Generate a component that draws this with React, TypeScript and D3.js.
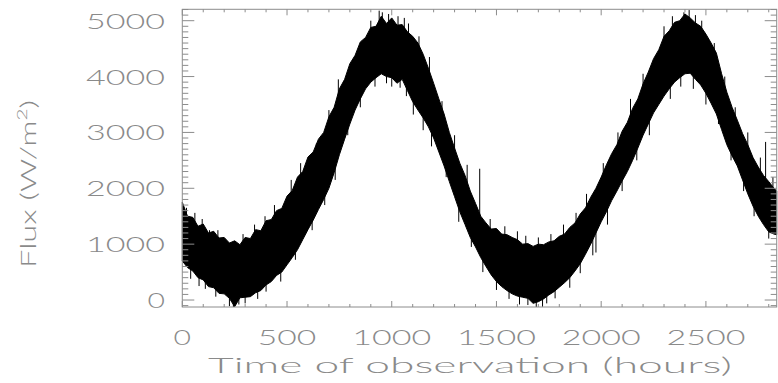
import { useEffect, useRef } from 'react';
import * as d3 from 'd3';

// sample times (hours) and the band of the noisy flux trace
const hours = [
  0, 25, 50, 75, 100, 125, 150, 175, 200, 225, 250, 275, 300, 325, 350, 375, 400, 425, 450, 475,
  500, 525, 550, 575, 600, 625, 650, 675, 700, 725, 750, 775, 800, 825, 850, 875, 900, 925, 950, 975,
  1000, 1025, 1050, 1075, 1100, 1125, 1150, 1175, 1200, 1225, 1250, 1275, 1300, 1325, 1350, 1375, 1400, 1425, 1450, 1475,
  1500, 1525, 1550, 1575, 1600, 1625, 1650, 1675, 1700, 1725, 1750, 1775, 1800, 1825, 1850, 1875, 1900, 1925, 1950, 1975,
  2000, 2025, 2050, 2075, 2100, 2125, 2150, 2175, 2200, 2225, 2250, 2275, 2300, 2325, 2350, 2375, 2400, 2425, 2450, 2475,
  2500, 2525, 2550, 2575, 2600, 2625, 2650, 2675, 2700, 2725, 2750, 2775, 2800, 2825, 2838,
];

const fluxHigh = [
  1750, 1500, 1480, 1320, 1360, 1200, 1230, 1110, 1120, 1020, 1060, 990, 1120, 1100, 1260, 1240, 1420, 1440, 1600, 1640,
  1860, 1960, 2200, 2300, 2560, 2650, 2880, 3000, 3280, 3450, 3780, 3950, 4230, 4380, 4620, 4700, 4880, 4900, 5080, 4950,
  5050, 4920, 4930, 4800, 4720, 4600, 4400, 4150, 3880, 3600, 3330, 3000, 2720, 2450, 2230, 1950, 1730, 1500, 1380, 1270,
  1280, 1180, 1170, 1120, 1080, 1000, 1010, 960, 1000, 990, 1040, 1060, 1140, 1180, 1300, 1380, 1540, 1650, 1840, 2000,
  2200, 2420, 2620, 2780, 3020, 3180, 3430, 3600, 3870, 4080, 4320, 4480, 4720, 4820, 4970, 5000, 5120, 5050, 4960, 4900,
  4760, 4600, 4420, 4050, 3720, 3450, 3220, 2980, 2780, 2550, 2380, 2230, 2120, 2000, 1950,
];

const fluxLow = [
  700, 580, 520, 400, 360, 240, 220, 120, 110, 30, -120, 40, 50, 60, 130, 170, 270, 330, 440, 500,
  630, 760, 900, 1080, 1260, 1430, 1620, 1800, 2000, 2280, 2600, 2880, 3150, 3400, 3600, 3780, 3900, 3980, 4050, 4000,
  3980, 3880, 3950, 3750, 3550, 3400, 3260, 3100, 2900, 2650, 2400, 2120, 1850, 1580, 1350, 1120, 950, 760, 600, 450,
  330, 240, 170, 110, 70, 50, 30, -60, -30, 20, 90, 150, 230, 310, 400, 520, 650, 820, 1000, 1200,
  1400, 1580, 1780, 1950, 2130, 2300, 2500, 2720, 2950, 3150, 3350, 3500, 3650, 3780, 3900, 3980, 4050, 4060, 3950, 3850,
  3700, 3520, 3330, 3050, 2780, 2580, 2400, 2150, 1900, 1680, 1500, 1350, 1220, 1180, 1170,
];

// isolated spikes that stick out of the band
const spikeHours = [
  20, 40, 60, 80, 95, 110, 130, 160, 170, 225, 244, 270, 290, 300, 345, 360, 395, 400, 440, 470,
  520, 540, 565, 620, 640, 680, 700, 730, 745, 790, 850, 900, 920, 940, 955, 975, 985, 1000, 1030, 1040,
  1060, 1070, 1080, 1103, 1130, 1150, 1180, 1190, 1240, 1260, 1300, 1320, 1360, 1380, 1420, 1435, 1470, 1500, 1540, 1560,
  1600, 1610, 1640, 1650, 1690, 1700, 1720, 1740, 1760, 1780, 1820, 1850, 1880, 1900, 1930, 1960, 1975, 2010, 2030, 2080,
  2100, 2140, 2170, 2200, 2230, 2300, 2330, 2340, 2380, 2395, 2420, 2440, 2450, 2480, 2500, 2540, 2560, 2590, 2620, 2640,
  2680, 2700, 2730, 2760, 2785, 2800, 2820,
];
const spikeFlux = [
  1650, 380, 1560, 250, 1450, 200, 1250, 60, 1250, -110, -125, -80, 1180, -60, 1350, 20, 1500, 150, 1700, 330,
  2150, 720, 2450, 1250, 2800, 1700, 3400, 2150, 3950, 2950, 3450, 5000, 3820, 5180, 5150, 3880, 5120, 3820, 5080, 3800,
  5050, 3650, 4950, 3320, 4720, 3040, 4350, 2750, 3560, 2200, 2950, 1400, 2420, 950, 2350, 500, 1450, 180, 1320, 20,
  1230, -80, 1150, -90, -125, 1120, -120, -60, 1180, 30, 1350, 220, 1560, 480, 1900, 800, 850, 2450, 1350, 3000,
  1950, 3600, 2500, 4050, 2950, 4900, 3600, 5080, 3820, 5150, 5190, 3780, 5100, 5000, 3500, 4600, 3150, 4000, 2500, 3450,
  1950, 3000, 1500, 2550, 2830, 1100, 2200,
];

const xTickLabels = ['0', '500', '1000', '1500', '2000', '2500'];
const yTickLabels = ['0', '1000', '2000', '3000', '4000', '5000'];

const App = (): JSX.Element => {
  const svgRef = useRef<SVGSVGElement>(null);

  useEffect(() => {
    const width = 778;
    const height = 383;
    const left = 182.3;
    const right = 776.7;
    const top = 9.3;
    const bottom = 307;
    const axisColor = '#8c8c8c';
    const textColor = '#8a8a8a';
    const font = 'Lato, "DejaVu Sans", sans-serif';

    const svg = d3.select(svgRef.current);
    svg.selectAll('*').remove();
    svg.attr('width', width).attr('height', height);

    const x = d3.scaleLinear().domain([0, 2838]).range([left, right]);
    const y = d3.scaleLinear().domain([-125, 5204]).range([bottom, top]);

    const band = hours.map((h, i) => ({ h, lo: fluxLow[i], hi: fluxHigh[i] }));

    svg.append('path')
      .datum(band)
      .attr('d', d3.area<{ h: number, lo: number, hi: number }>()
        .x(d => x(d.h))
        .y0(d => y(d.lo))
        .y1(d => y(d.hi)))
      .attr('fill', '#000')
      .attr('stroke', '#000')
      .attr('stroke-width', 1);

    svg.selectAll('line.spike')
      .data(spikeHours)
      .enter()
      .append('line')
      .attr('class', 'spike')
      .attr('x1', d => x(d))
      .attr('x2', d => x(d))
      .attr('y1', d => {
        const k = Math.min(d3.bisectLeft(hours, d), hours.length - 1);
        return y((fluxLow[k] + fluxHigh[k]) / 2);
      })
      .attr('y2', (_d, i) => y(spikeFlux[i]))
      .attr('stroke', '#000')
      .attr('stroke-width', 1);

    // frame
    svg.append('rect')
      .attr('x', left).attr('y', top)
      .attr('width', right - left).attr('height', bottom - top)
      .attr('fill', 'none')
      .attr('stroke', axisColor)
      .attr('stroke-width', 1);

    const ticks = svg.append('g').attr('stroke', axisColor).attr('stroke-width', 1);
    const xMajorLen = 6;
    const yMajorLen = 12;

    d3.range(0, 2839, 100).forEach(h => {
      const len = h % 500 === 0 ? xMajorLen : xMajorLen / 2;
      ticks.append('line').attr('x1', x(h)).attr('x2', x(h)).attr('y1', bottom).attr('y2', bottom - len);
      ticks.append('line').attr('x1', x(h)).attr('x2', x(h)).attr('y1', top).attr('y2', top + len);
    });
    d3.range(-100, 5201, 100).forEach(v => {
      const len = v % 1000 === 0 ? yMajorLen : yMajorLen / 2;
      ticks.append('line').attr('x1', left).attr('x2', left + len).attr('y1', y(v)).attr('y2', y(v));
      ticks.append('line').attr('x1', right).attr('x2', right - len).attr('y1', y(v)).attr('y2', y(v));
    });

    const labelText = (sel: d3.Selection<SVGTextElement, string, SVGSVGElement | null, unknown>) => sel
      .attr('font-family', font)
      .attr('font-weight', 300)
      .attr('font-size', 22)
      .attr('fill', textColor)
      .attr('textLength', d => 20.5 * d.length - 3)
      .attr('lengthAdjust', 'spacingAndGlyphs')
      .text(d => d);

    svg.selectAll('text.xlab')
      .data(xTickLabels)
      .enter()
      .append('text')
      .attr('class', 'xlab')
      .attr('x', d => x(+d))
      .attr('y', 345)
      .attr('text-anchor', 'middle')
      .call(labelText);

    svg.selectAll('text.ylab')
      .data(yTickLabels)
      .enter()
      .append('text')
      .attr('class', 'ylab')
      .attr('x', 165)
      .attr('y', d => y(+d) + 8)
      .attr('text-anchor', 'end')
      .call(labelText);

    svg.append('text')
      .attr('x', 470)
      .attr('y', 373)
      .attr('text-anchor', 'middle')
      .attr('font-family', font)
      .attr('font-weight', 300)
      .attr('font-size', 22)
      .attr('fill', textColor)
      .attr('textLength', 524)
      .attr('lengthAdjust', 'spacingAndGlyphs')
      .text('Time of observation (hours)');

    const yTitle = svg.append('text')
      .attr('transform', 'translate(36,184) rotate(-90)')
      .attr('text-anchor', 'middle')
      .attr('font-family', font)
      .attr('font-weight', 300)
      .attr('font-size', 22)
      .attr('fill', textColor)
      .attr('textLength', 168)
      .attr('lengthAdjust', 'spacingAndGlyphs');
    yTitle.append('tspan').text('Flux (W/m');
    yTitle.append('tspan').attr('font-size', 14).attr('dy', -9).text('2');
    yTitle.append('tspan').attr('dy', 9).text(')');
  }, []);

  return (
    <div style={{ position: 'absolute', left: 0, top: 0 }}>
      <svg ref={svgRef} style={{ display: 'block' }}></svg>
    </div>
  );
};

export default App;
